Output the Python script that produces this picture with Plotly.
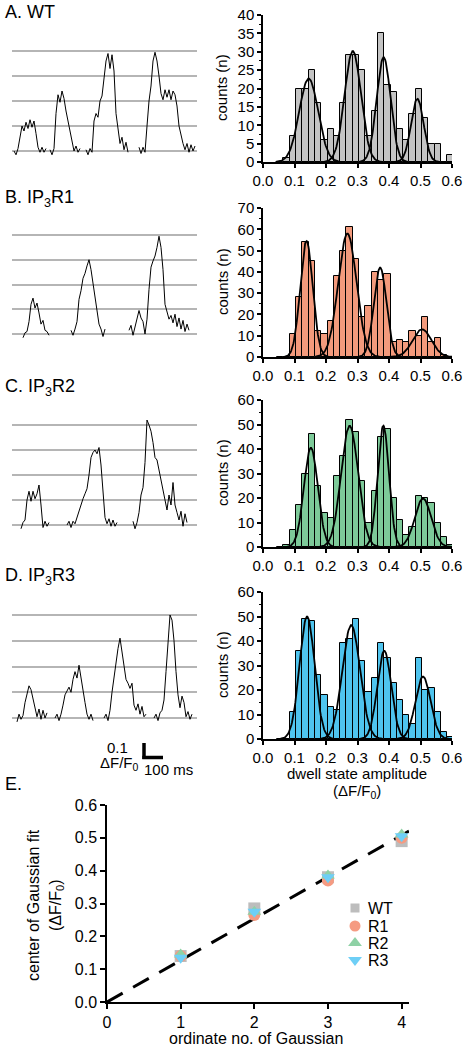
import numpy as np
import plotly.graph_objects as go

W, H = 463, 1050
FONT = "Liberation Sans, Arial, Helvetica, sans-serif"

# ---------------- data ----------------
# Left column: fluorescence traces (levels in units of the grey reference lines), sampled every 10 ms
sample_dt = 10
wt_starts = [10, 190, 370, 635]
wt_segments = [
    [0.0, -0.15, 0.1, 0.6, 1.0, 0.8, 1.15, 0.9, 1.25, 0.95, 1.2, 0.7, 0.15, -0.05, 0.15, -0.05, 0.1],
    [0.05, -0.15, 0.1, 1.5, 2.25, 1.95, 2.4, 2.1, 1.6, 1.2, 0.95, 0.4, 0.0, 0.2, -0.05, 0.1],
    [0.05, -0.15, 0.1, -0.05, 1.2, 1.5, 1.35, 2.0, 2.2, 2.8, 3.6, 3.9, 3.3, 3.85, 3.2, 1.5, 0.9, 0.3, 0.55, 0.05,
     0.35, -0.05],
    [0.15, -0.1, 0.15, -0.05, 1.0, 2.0, 2.6, 3.6, 3.95, 3.6, 3.0, 2.3, 2.05, 2.45, 2.15, 2.45, 2.05, 2.4, 2.25, 1.8,
     1.0, 0.6, 0.3, 0.05, 0.3, -0.05, 0.25, 0.0, 0.2],
]
r1_starts = [55, 295, 585]
r1_segments = [
    [-0.15, 0.05, 0.1, 0.5, 1.2, 1.45, 1.05, 1.25, 0.85, 0.4, 0.55, 0.15, 0.1, -0.05],
    [0.15, -0.05, 0.2, 0.5, 1.4, 1.75, 2.25, 2.45, 2.75, 3.0, 2.6, 2.0, 1.4, 0.8, 0.4, 0.2, -0.1, 0.2],
    [0.15, 0.35, -0.05, 0.3, 0.6, 0.95, 0.65, 0.5, 0.0, 0.6, 1.8, 2.7, 2.95, 3.15, 3.5, 3.95, 3.5, 2.6, 1.2, 0.85,
     0.6, 0.75, 0.45, 0.8, 0.3, 0.65, 0.2, 0.55, 0.1, 0.4, 0.15],
]
r2_starts = [45, 275, 605]
r2_segments = [
    [-0.15, 0.1, 0.2, 1.0, 1.35, 0.95, 1.35, 1.05, 1.25, 1.6, 0.8, -0.1, 0.15, -0.05, 0.1],
    [0.0, 0.15, -0.1, 0.15, 0.05, 0.3, 0.55, 0.85, 1.05, 1.25, 1.45, 2.0, 2.7, 2.9, 3.0, 2.85, 3.1, 2.4, 1.3, 0.3,
     0.05, 0.25, -0.05, 0.2, -0.05, 0.1],
    [0.15, -0.15, 0.1, 0.5, 1.2, 1.5, 2.5, 4.2, 4.0, 3.75, 3.3, 2.7, 2.6, 2.2, 1.9, 1.4, 1.0, 0.6, 1.2, 0.8, 1.7,
     0.8, 0.5, 0.2, 0.55, -0.05, 0.45, 0.1],
]
r3_starts = [25, 215, 460, 710]
r3_segments = [
    [-0.15, 0.15, -0.05, 0.1, 0.6, 1.0, 1.25, 1.1, 0.7, 0.4, 0.05, 0.35, -0.05, 0.3, 0.0, 0.2],
    [0.0, 0.15, -0.1, 0.15, 0.5, 0.9, 1.05, 1.2, 1.0, 1.5, 1.8, 1.55, 2.05, 1.5, 1.0, 0.6, 0.15, -0.05, 0.15, -0.1],
    [0.0, 0.15, -0.1, 0.3, 1.0, 1.6, 2.2, 2.7, 3.1, 2.5, 1.9, 1.5, 1.35, 1.15, 1.35, 0.5, 0.3, 0.55, 0.15, 0.45,
     0.05, 0.15],
    [0.0, 0.15, -0.1, 0.2, 0.3, 0.7, 1.8, 3.0, 4.0, 3.8, 3.0, 1.8, 0.9, 0.4, 0.85, 0.6, 0.05, 0.25, -0.05, 0.15],
]
trace_levels = [0, 1, 2, 3, 4]

# Right column: dwell-state amplitude histograms (bin width 0.02)
bin_width = 0.02
bin_centers = [0.055, 0.075, 0.095, 0.115, 0.135, 0.155, 0.175, 0.195, 0.215, 0.235, 0.255, 0.275, 0.295, 0.315,
               0.335, 0.355, 0.375, 0.395, 0.415, 0.435, 0.455, 0.475, 0.495, 0.515, 0.535, 0.555, 0.575, 0.595]
wt_counts = [0, 1, 7, 20, 20, 25, 16, 6, 9, 7, 16, 29, 29, 25, 7, 14, 35, 21, 19, 9, 6, 13, 20, 12, 5, 5, 0, 2]
r1_counts = [0, 0, 11, 28, 54, 45, 12, 11, 17, 38, 50, 61, 46, 19, 24, 40, 36, 39, 7, 8, 7, 12, 10, 19, 7, 9, 1, 0]
r2_counts = [0, 1, 7, 17, 30, 46, 25, 14, 12, 29, 37, 52, 47, 27, 10, 23, 45, 48, 20, 11, 5, 8, 21, 20, 18, 10, 4, 1]
r3_counts = [0, 0, 11, 36, 49, 48, 26, 18, 13, 12, 39, 41, 49, 32, 19, 25, 39, 33, 23, 16, 10, 6, 33, 20, 21, 11, 3, 1]

# Gaussian fit parameters (centre, amplitude, sigma)
wt_fit_centers = [0.145, 0.285, 0.383, 0.490]
wt_fit_amps = [22.7, 30.2, 28.5, 17.2]
wt_fit_sigmas = [0.030, 0.026, 0.022, 0.020]
r1_fit_centers = [0.138, 0.268, 0.372, 0.505]
r1_fit_amps = [54.5, 58.0, 42.0, 13.0]
r1_fit_sigmas = [0.020, 0.029, 0.020, 0.030]
r2_fit_centers = [0.152, 0.275, 0.382, 0.508]
r2_fit_amps = [40.5, 49.5, 49.5, 19.8]
r2_fit_sigmas = [0.022, 0.027, 0.018, 0.026]
r3_fit_centers = [0.140, 0.280, 0.385, 0.508]
r3_fit_amps = [50.0, 46.5, 36.0, 25.5]
r3_fit_sigmas = [0.024, 0.028, 0.022, 0.024]

# Panel E: Gaussian centres vs ordinate number
ordinate = [1, 2, 3, 4]
wt_centres_E = [0.14, 0.285, 0.38, 0.49]
r1_centres_E = [0.14, 0.265, 0.37, 0.50]
r2_centres_E = [0.145, 0.275, 0.385, 0.51]
r3_centres_E = [0.135, 0.275, 0.38, 0.505]
fit_slope = 0.127
fit_intercept = 0.0
fit_x_range = [0, 4.1]
series_names = ["WT", "R1", "R2", "R3"]

# ---------------- styling ----------------
wt_color = "#c4c4c4"
r1_color = "#f39a7c"
r2_color = "#7dca99"
r3_color = "#4fc4ee"
e_colors = ["#bdbdbd", "#f59b82", "#8ed1a5", "#6ecff6"]
e_symbols = ["square", "circle", "triangle-up", "triangle-down"]


def dom_x(a, b):
    return [a / W, b / W]


def dom_y(top, bottom):
    return [1 - bottom / H, 1 - top / H]


def px(x):
    return x / W


def py(y):
    return 1 - y / H


def ax(k, letter):
    return letter if k == 1 else f"{letter}{k}"


def lay(k, letter):
    return f"{letter}axis" if k == 1 else f"{letter}axis{k}"


fig = go.Figure()
layout = dict(
    template="none",
    width=W, height=H, margin=dict(l=0, r=0, t=0, b=0, pad=0, autoexpand=False),
    paper_bgcolor="white", plot_bgcolor="rgba(0,0,0,0)", showlegend=False,
    font=dict(family=FONT, size=15, color="black"), bargap=0,
)

# ---- traces (left column) ----
trace_panels = [
    (wt_starts, wt_segments, (38.5, 163.5)),
    (r1_starts, r1_segments, (222.6, 346.4)),
    (r2_starts, r2_segments, (412.5, 537.5)),
    (r3_starts, r3_segments, (602.1, 730.9)),
]
for k, (starts, segs, (top, bot)) in enumerate(trace_panels, start=1):
    xs, ys = [], []
    for t0, seg in zip(starts, segs):
        for j, v in enumerate(seg):
            xs.append(t0 + j * sample_dt)
            ys.append(v)
        xs.append(None)
        ys.append(None)
    fig.add_trace(go.Scatter(x=xs, y=ys, mode="lines", line=dict(color="black", width=1),
                             xaxis=ax(k, "x"), yaxis=ax(k, "y"), hoverinfo="skip", connectgaps=False))
    layout[lay(k, "x")] = dict(domain=dom_x(12, 197), range=[0, 925], visible=False, anchor=ax(k, "y"),
                               automargin=False)
    layout[lay(k, "y")] = dict(domain=dom_y(top, bot), range=[-0.5, 4.5], anchor=ax(k, "x"),
                               tickvals=trace_levels, showticklabels=False, ticks="",
                               showgrid=True, gridcolor="#b5b5b5", gridwidth=2,
                               zeroline=False, showline=False, automargin=False)

# ---- histograms (right column) ----
hist_panels = [
    (wt_counts, wt_color, wt_fit_centers, wt_fit_amps, wt_fit_sigmas, (15, 162), 40, 5),
    (r1_counts, r1_color, r1_fit_centers, r1_fit_amps, r1_fit_sigmas, (208, 357), 70, 10),
    (r2_counts, r2_color, r2_fit_centers, r2_fit_amps, r2_fit_sigmas, (400, 547), 60, 10),
    (r3_counts, r3_color, r3_fit_centers, r3_fit_amps, r3_fit_sigmas, (592, 739), 60, 10),
]
for i, (counts, color, cs, amps, sigs, (top, bot), ymax, dtick) in enumerate(hist_panels):
    k = 5 + i
    fig.add_trace(go.Bar(x=bin_centers, y=counts, width=bin_width,
                         marker=dict(color=color, line=dict(color="black", width=1)),
                         xaxis=ax(k, "x"), yaxis=ax(k, "y"), hoverinfo="skip"))
    for c, a, s in zip(cs, amps, sigs):
        gx = np.linspace(c - 3.5 * s, c + 3.5 * s, 80)
        gy = a * np.exp(-0.5 * ((gx - c) / s) ** 2)
        fig.add_trace(go.Scatter(x=gx, y=gy, mode="lines", line=dict(color="black", width=1.8),
                                 xaxis=ax(k, "x"), yaxis=ax(k, "y"), hoverinfo="skip"))
    layout[lay(k, "x")] = dict(
        domain=dom_x(263, 452), range=[0, 0.6], anchor=ax(k, "y"),
        tickvals=[0, 0.1, 0.2, 0.3, 0.4, 0.5, 0.6],
        ticktext=["0.0", "0.1", "0.2", "0.3", "0.4", "0.5", "0.6"],
        ticks="outside", ticklen=4, tickwidth=1.5, tickcolor="black",
        showline=True, linecolor="black", linewidth=1.5, showgrid=False, zeroline=False,
        tickfont=dict(size=15), automargin=False,
    )
    layout[lay(k, "y")] = dict(
        domain=dom_y(top, bot), range=[0, ymax], anchor=ax(k, "x"), dtick=dtick,
        ticks="outside", ticklen=4, tickwidth=1.5, tickcolor="black",
        minor=dict(ticks="outside", ticklen=2.5, dtick=dtick / 2, tickcolor="black", tickwidth=1.2),
        showline=True, linecolor="black", linewidth=1.5, showgrid=False, zeroline=False,
        tickfont=dict(size=15), automargin=False,
    )

# ---- panel E ----
fx = np.array(fit_x_range)
fig.add_trace(go.Scatter(x=fx, y=fit_intercept + fit_slope * fx, mode="lines",
                         line=dict(color="black", width=3, dash="18px,12px"),
                         xaxis="x9", yaxis="y9", hoverinfo="skip"))
for vals, col, sym, name in zip([wt_centres_E, r1_centres_E, r2_centres_E, r3_centres_E],
                                e_colors, e_symbols, series_names):
    fig.add_trace(go.Scatter(x=ordinate, y=vals, mode="markers", name=name,
                             marker=dict(color=col, symbol=sym, size=12, line=dict(width=0)),
                             xaxis="x9", yaxis="y9", cliponaxis=False, hoverinfo="skip"))
layout["xaxis9"] = dict(domain=dom_x(107, 409), range=[0, 4.1], anchor="y9", tickvals=[0, 1, 2, 3, 4],
                        ticks="outside", ticklen=5, tickwidth=1.5, tickcolor="black",
                        showline=True, linecolor="black", linewidth=1.5, showgrid=False, zeroline=False,
                        tickfont=dict(size=16), automargin=False)
layout["yaxis9"] = dict(domain=dom_y(805, 1002), range=[0, 0.6], anchor="x9", dtick=0.1, tickformat=".1f",
                        ticks="outside", ticklen=5, tickwidth=1.5, tickcolor="black",
                        showline=True, linecolor="black", linewidth=1.5, showgrid=False, zeroline=False,
                        tickfont=dict(size=16), automargin=False)

# custom legend for panel E (hidden pixel-space axes)
legend_x = 355
legend_y = [908, 926, 943, 960]
legend_sizes = [9, 11, 12, 12]
for name, col, sym, ly, sz in zip(series_names, e_colors, e_symbols, legend_y, legend_sizes):
    fig.add_trace(go.Scatter(x=[legend_x], y=[ly], mode="markers",
                             marker=dict(color=col, symbol=sym, size=sz, line=dict(width=0)),
                             xaxis="x10", yaxis="y10", cliponaxis=False, hoverinfo="skip"))
layout["xaxis10"] = dict(domain=dom_x(330, 430), range=[330, 430], visible=False, anchor="y10",
                         automargin=False)
layout["yaxis10"] = dict(domain=dom_y(890, 980), range=[980, 890], visible=False, anchor="x10",
                         automargin=False)

# ---------------- text ----------------
ann = []


def text(t, x, y, size=15, xanchor="center", angle=0):
    ann.append(dict(text=t, x=px(x), y=py(y), xref="paper", yref="paper", showarrow=False,
                    xanchor=xanchor, yanchor="middle", textangle=angle,
                    font=dict(family=FONT, size=size, color="black")))


text("A. WT", 3, 12, 18, "left")
text("B. IP<sub>3</sub>R1", 3, 198, 18, "left")
text("C. IP<sub>3</sub>R2", 3, 387, 18, "left")
text("D. IP<sub>3</sub>R3", 3, 576, 18, "left")
text("E.", 3, 784, 18, "left")
for yc in [88, 282, 473, 665]:
    text("counts (n)", 222, yc, 15, angle=-90)
text("dwell state amplitude", 357, 773, 15)
text("(ΔF/F<sub>0</sub>)", 357, 791, 15)
# scale bar labels
text("0.1", 117, 747, 15)
text("ΔF/F<sub>0</sub>", 119, 763, 15)
text("100 ms", 168, 769, 15)
# panel E titles
text("center of Gaussian fit", 33, 905, 16, angle=-90)
text("(ΔF/F<sub>0</sub>)", 56, 905, 16, angle=-90)
text("ordinate no. of Gaussian", 256, 1038, 16)
for name, ly in zip(series_names, legend_y):
    text(name, 366, ly, 16, "left")

layout["annotations"] = ann

# scale bar (100 ms x 0.1 dF/F0)
layout["shapes"] = [
    dict(type="line", xref="paper", yref="paper", x0=px(144), x1=px(144), y0=py(743), y1=py(759),
         line=dict(color="black", width=3.5)),
    dict(type="line", xref="paper", yref="paper", x0=px(142.3), x1=px(163), y0=py(757.5), y1=py(757.5),
         line=dict(color="black", width=3.5)),
]

fig.update_layout(**layout)
fig.write_html("out.html", config={"displayModeBar": False},
               post_script="document.body.style.margin='0px';document.body.style.padding='0px';")
